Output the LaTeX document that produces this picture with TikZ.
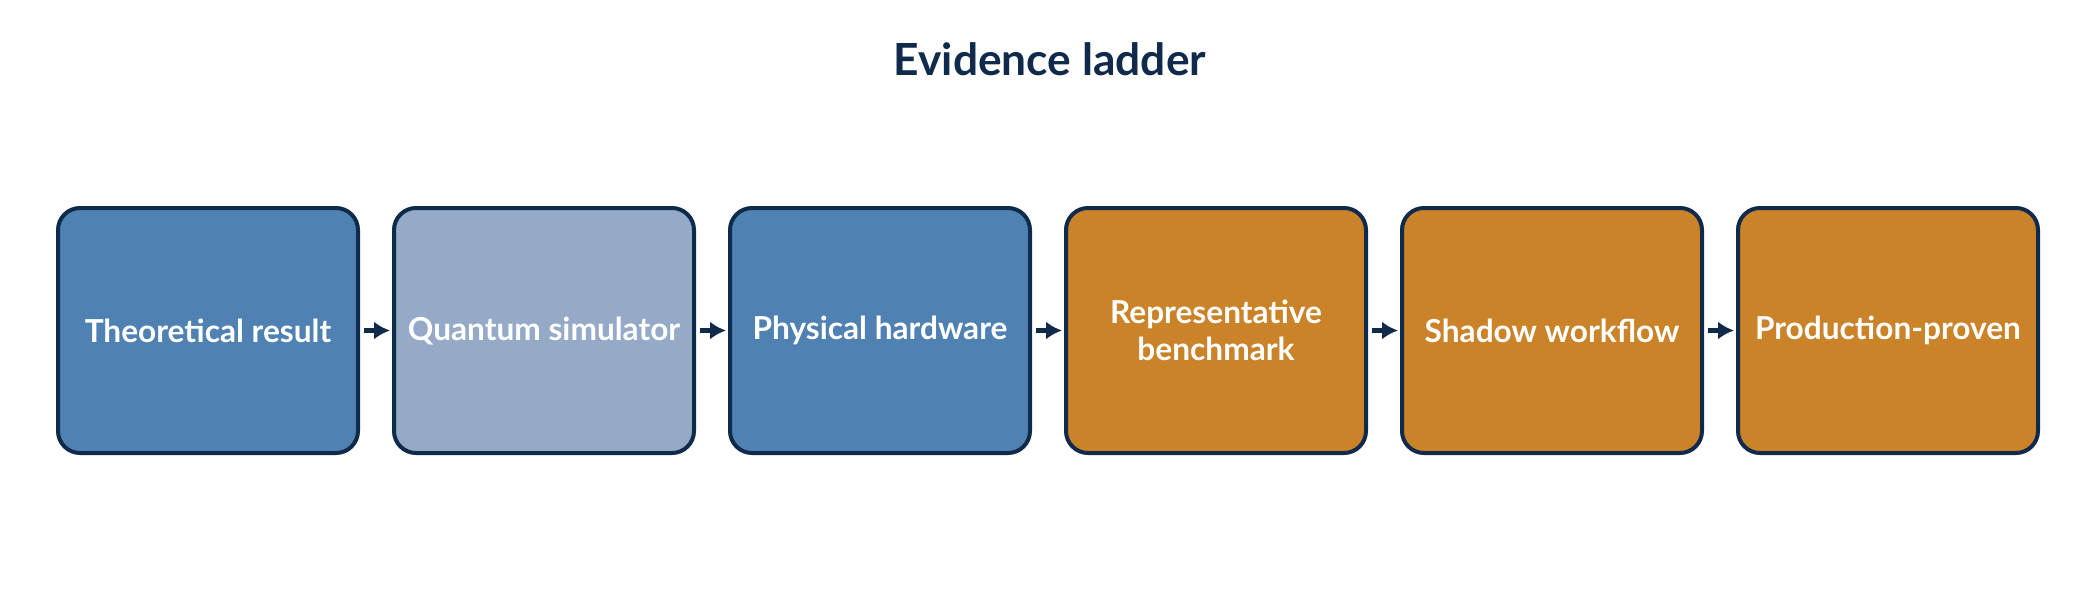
\documentclass[tikz,border=0pt]{standalone}
\usepackage{fontspec}
\setmainfont{Lato}
\usetikzlibrary{shapes,arrows.meta}
\definecolor{navy}{HTML}{0F2A4B}
\definecolor{stepblue}{HTML}{4F81B3}
\definecolor{stepgrey}{HTML}{95AAC7}
\definecolor{steporange}{HTML}{CA8329}
\tikzstyle{stage} = [rectangle, draw=navy, line width=0.04cm, rounded corners=0.22cm, text=white,
font=\bfseries\fontsize{9}{10.4}\selectfont, align=center, minimum width=3cm,
minimum height=2.45cm, node distance=3.36cm]
\tikzstyle{line} = [draw, navy, line width=1.3pt, -{Latex[length=1.6mm,width=1.8mm]},
shorten <=0.04cm, shorten >=0.02cm]

\begin{document}
\begin{tikzpicture}[node distance=3.36cm, auto]
		\useasboundingbox (0,0) rectangle (21,-6);
		\node [font=\bfseries\fontsize{12.6}{14}\selectfont, text=navy, anchor=base] (title) at (10.5,-0.75) {Evidence ladder};
		\node [stage, fill=stepblue] (theory) at (2.08,-3.305) {Theoretical result};
		\node [stage, fill=stepgrey, right of=theory] (simulator) {Quantum simulator};
		\node [stage, fill=stepblue, right of=simulator] (hardware) {Physical hardware};
		\node [stage, fill=steporange, right of=hardware] (benchmark) {Representative\\benchmark};
		\node [stage, fill=steporange, right of=benchmark] (shadow) {Shadow workflow};
		\node [stage, fill=steporange, right of=shadow] (production) {Production-proven};
		\path [line] (theory) -- (simulator);
		\path [line] (simulator) -- (hardware);
		\path [line] (hardware) -- (benchmark);
		\path [line] (benchmark) -- (shadow);
		\path [line] (shadow) -- (production);
	\end{tikzpicture}
\end{document}
